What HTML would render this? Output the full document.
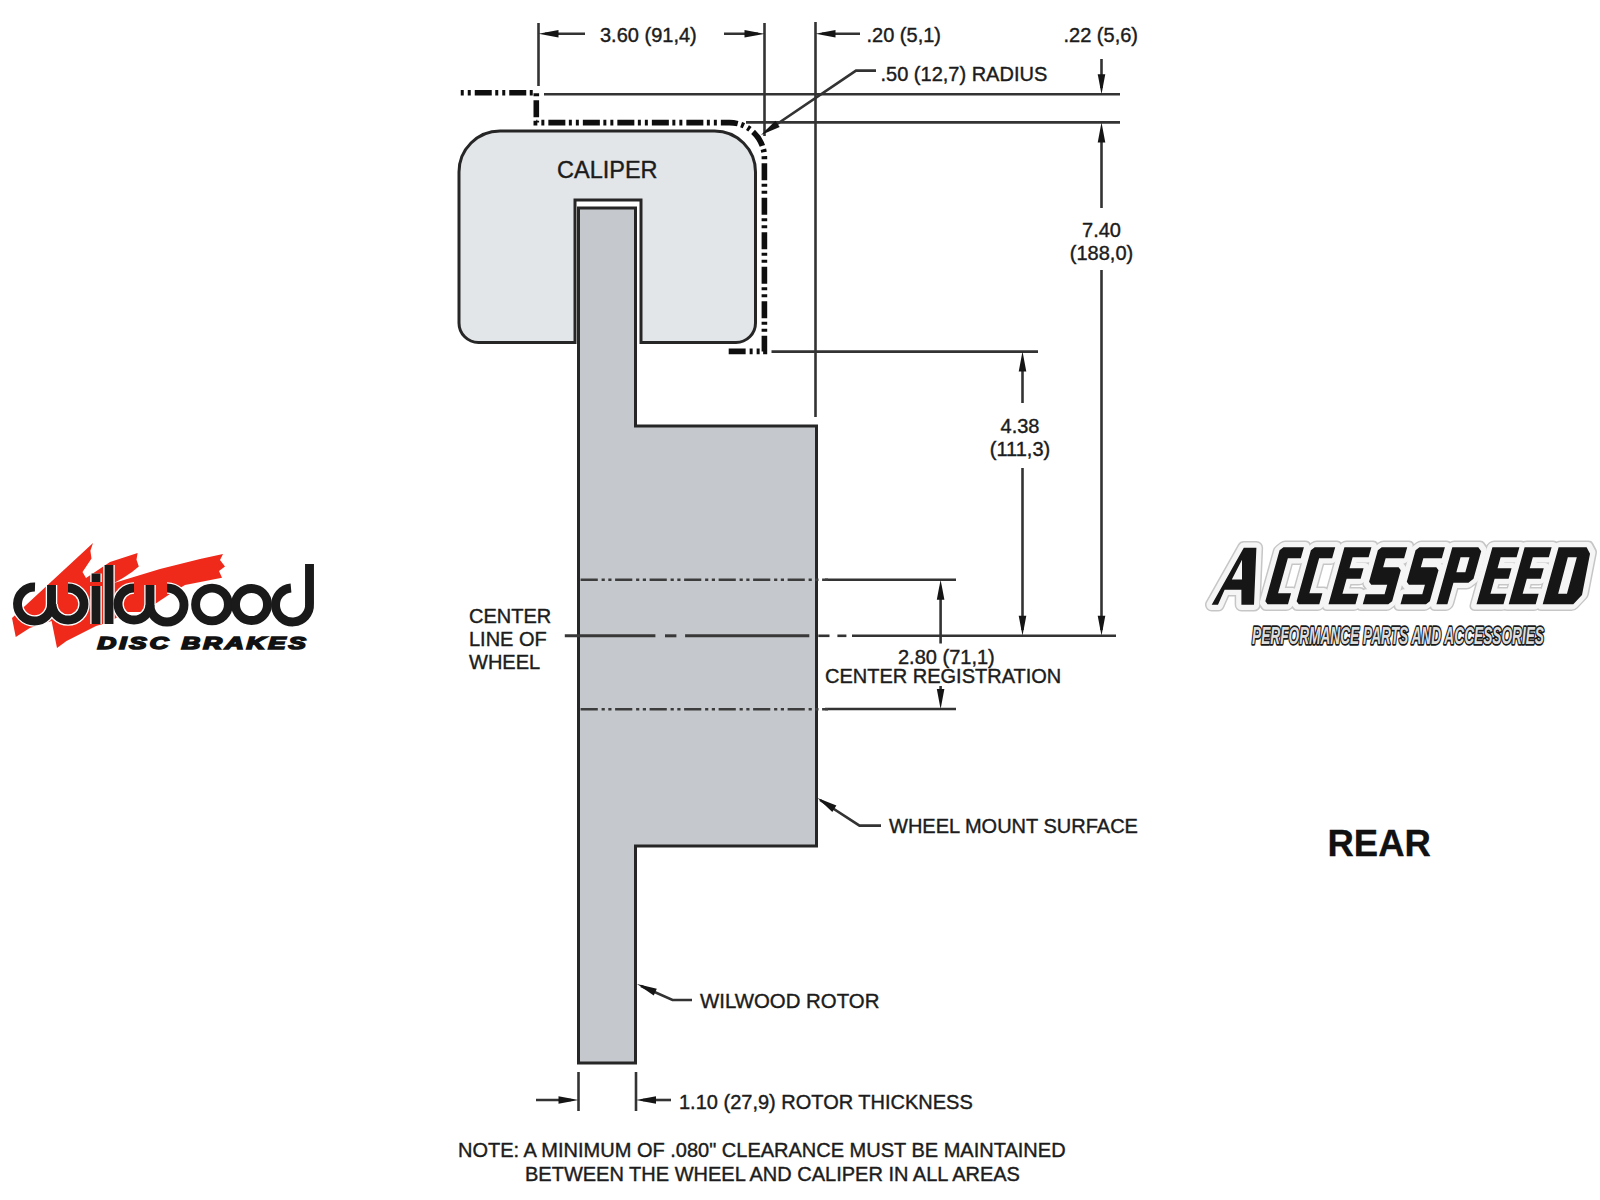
<!DOCTYPE html>
<html><head><meta charset="utf-8">
<style>
html,body{margin:0;padding:0;background:#fff;width:1600px;height:1200px;overflow:hidden}
svg{position:absolute;left:0;top:0;display:block}
text{font-family:"Liberation Sans",sans-serif}
</style></head>
<body>
<svg width="1600" height="1200" viewBox="0 0 1600 1200">
<defs>
<path id="ah" d="M0,0 L-20,-3.8 L-20,3.8 Z"/>
</defs>

<!-- caliper -->
<path d="M459,172 A41,41 0 0 1 500,131 L714.5,131 A41,41 0 0 1 755.5,172 L755.5,323 A19.5,19.5 0 0 1 736,342.5 L641,342.5 L641,200 L575,200 L575,342.5 L478.5,342.5 A19.5,19.5 0 0 1 459,323 Z" fill="#e3e6e9" stroke="#262626" stroke-width="3"/>
<!-- rotor -->
<path d="M578.5,208 L635.5,208 L635.5,426 L816.5,426 L816.5,846 L635.5,846 L635.5,1063 L578.5,1063 Z" fill="#c5c8cc" stroke="#262626" stroke-width="3"/>

<g stroke="#333" stroke-width="2.6" fill="none">
  <!-- extension lines top -->
  <line x1="538.5" y1="23" x2="538.5" y2="86"/>
  <line x1="764.5" y1="23" x2="764.5" y2="136"/>
  <line x1="815.5" y1="22" x2="815.5" y2="417"/>
  <!-- dim line 3.60 -->
  <line x1="545" y1="33.8" x2="585" y2="33.8"/>
  <line x1="724" y1="33.8" x2="758" y2="33.8"/>
  <line x1="822" y1="33.8" x2="860" y2="33.8"/>
  <!-- horizontal ref lines -->
  <line x1="544" y1="94.3" x2="1120" y2="94.3"/>
  <line x1="746" y1="122.4" x2="1120" y2="122.4"/>
  <!-- .22 / 7.40 vertical -->
  <line x1="1101.5" y1="59" x2="1101.5" y2="88"/>
  <line x1="1101.5" y1="130" x2="1101.5" y2="208"/>
  <line x1="1101.5" y1="270" x2="1101.5" y2="630"/>
  <!-- 4.38 -->
  <line x1="771.5" y1="351.6" x2="1038" y2="351.6"/>
  <line x1="1022.5" y1="360" x2="1022.5" y2="403"/>
  <line x1="1022.5" y1="468" x2="1022.5" y2="630"/>
  <!-- center line extension -->
  <line x1="852" y1="635.8" x2="1116" y2="635.8"/>
  <line x1="818.3" y1="635.8" x2="829.5" y2="635.8"/>
  <line x1="837.4" y1="635.8" x2="846.4" y2="635.8"/>
  <!-- 2.80 -->
  <line x1="825" y1="579.8" x2="956" y2="579.8"/>
  <line x1="825" y1="709" x2="956" y2="709"/>
  <line x1="940.6" y1="588" x2="940.6" y2="643.5"/>
  <line x1="940.6" y1="686" x2="940.6" y2="701"/>
  <!-- 1.10 -->
  <line x1="578.5" y1="1072" x2="578.5" y2="1111"/>
  <line x1="636" y1="1072" x2="636" y2="1111"/>
  <line x1="536" y1="1100" x2="571" y2="1100"/>
  <line x1="643" y1="1100" x2="671" y2="1100"/>
  <!-- leaders -->
  <polyline points="876,70.6 856,70.6 766,131.5"/>
  <polyline points="820,800 859.5,825.6 881,825.6"/>
  <polyline points="641,986 672.5,1000 692,1000"/>
</g>

<!-- center lines across rotor -->
<g stroke="#383838" stroke-width="3" fill="none">
  <line x1="564.8" y1="635.8" x2="655.4" y2="635.8"/>
  <line x1="665" y1="635.8" x2="676.4" y2="635.8"/>
  <line x1="685.1" y1="635.8" x2="809.3" y2="635.8"/>
  <line x1="578" y1="579.7" x2="828" y2="579.7" stroke-dasharray="17.2,3.8,3.2,3.5,3.2,3.6" stroke-dashoffset="31.9" stroke-width="2.5" stroke="#3c3c3c"/>
  <line x1="578" y1="709.2" x2="828" y2="709.2" stroke-dasharray="17.2,3.8,3.2,3.5,3.2,3.6" stroke-dashoffset="31.9" stroke-width="2.5" stroke="#3c3c3c"/>
</g>

<!-- phantom (clearance) line -->
<path d="M460,92.7 H536.3 V122.6 H729.4 A35,35 0 0 1 764.4,157.6 V351.4 H728.7" stroke="#0e0e0e" stroke-width="5.6" fill="none" stroke-dasharray="17,3.5,3,4,3,4" stroke-dashoffset="19.75"/>

<!-- arrowheads -->
<g fill="#151515">
  <use href="#ah" transform="translate(538.5,33.8) rotate(180)"/>
  <use href="#ah" transform="translate(764.5,33.8)"/>
  <use href="#ah" transform="translate(815.5,33.8) rotate(180)"/>
  <use href="#ah" transform="translate(1101.5,94.3) rotate(90)"/>
  <use href="#ah" transform="translate(1101.5,122.4) rotate(-90)"/>
  <use href="#ah" transform="translate(1101.5,635.8) rotate(90)"/>
  <use href="#ah" transform="translate(1022.5,351.6) rotate(-90)"/>
  <use href="#ah" transform="translate(1022.5,635.8) rotate(90)"/>
  <use href="#ah" transform="translate(940.6,579.8) rotate(-90)"/>
  <use href="#ah" transform="translate(940.6,709) rotate(90)"/>
  <use href="#ah" transform="translate(578.5,1100)"/>
  <use href="#ah" transform="translate(636,1100) rotate(180)"/>
  <use href="#ah" transform="translate(761,135) rotate(145.9)"/>
  <use href="#ah" transform="translate(817.5,798) rotate(212.6)"/>
  <use href="#ah" transform="translate(637,984) rotate(204)"/>
</g>

<!-- texts -->
<g font-size="20" fill="#1c1c1c" stroke="#1c1c1c" stroke-width="0.4">
  <text x="600" y="42">3.60 (91,4)</text>
  <text x="866.5" y="42">.20 (5,1)</text>
  <text x="1063.5" y="42">.22 (5,6)</text>
  <text x="880.5" y="81">.50 (12,7) RADIUS</text>
  <text x="557" y="177.5" font-size="23.5">CALIPER</text>
  <text x="1101.5" y="237" text-anchor="middle">7.40</text>
  <text x="1101.5" y="260" text-anchor="middle">(188,0)</text>
  <text x="1020" y="433" text-anchor="middle">4.38</text>
  <text x="1020" y="456" text-anchor="middle">(111,3)</text>
  <text x="469" y="623">CENTER</text>
  <text x="469" y="646">LINE OF</text>
  <text x="469" y="669">WHEEL</text>
  <text x="898" y="664">2.80 (71,1)</text>
  <text x="825" y="683">CENTER REGISTRATION</text>
  <text x="889" y="833">WHEEL MOUNT SURFACE</text>
  <text x="700" y="1008" font-size="20.4">WILWOOD ROTOR</text>
  <text x="679" y="1109">1.10 (27,9) ROTOR THICKNESS</text>
  <text x="458" y="1157">NOTE: A MINIMUM OF .080" CLEARANCE MUST BE MAINTAINED</text>
  <text x="525" y="1181">BETWEEN THE WHEEL AND CALIPER IN ALL AREAS</text>
  <text x="1327.5" y="856" font-size="36.5" font-weight="bold" fill="#111" stroke="#111" stroke-width="0.3">REAR</text>
</g>

<!-- WILWOOD LOGO -->
<g id="wilwood">
  <g fill="#f02a1a">
    <path d="M12,618 L93,543 L90.4,550.7 L91.5,558.6 L82.5,572 L86,578 L110,562 L137.6,553 L136.5,559.7 L138.8,566.5 L132,572 L123,578 L114,583 L160,569 L200,559 L223,554 L220,560 L225,566.5 L219,571 L222,577.7 L185,585 L170,594 L143,612 L125,612 L110,622 L96,626 L66.5,641 L57,648 L51.6,621 L29.75,628 L15.75,637 Z"/>
  </g>
  <defs><g id="wl" fill="none">
    <path d="M35,587 A17,17 0 1 0 51.5,604 L51.5,585"/>
    <path d="M68,588 A16,16 0 1 1 52,604"/>
    <path d="M96,586 L96,624"/>
    <path d="M96,573.5 L96,582"/>
    <path d="M109,565 L109,624"/>
    <path d="M134,588 A16,16 0 1 0 150,604 L150,585"/>
    <path d="M167,588 A17,17 0 1 1 150,605"/>
    <circle cx="212" cy="604.5" r="16.4"/>
    <circle cx="251.5" cy="604.5" r="16"/>
    <path d="M291,588 A17,17 0 1 0 309.5,604 L309.5,564"/>
  </g></defs>
  <use href="#wl" stroke="#fff" stroke-width="11.5"/>
  <use href="#wl" stroke="#1a1a1a" stroke-width="8.9"/>
  
  <text transform="translate(97.5,649) scale(1.52,1)" x="0" y="0" font-size="17" font-weight="bold" font-style="italic" fill="#111" stroke="#111" stroke-width="1.6" textLength="137" lengthAdjust="spacing">DISC BRAKES</text>
</g>

<!-- ACCESSPEED LOGO -->
<g id="accesspeed">
  <defs>
    <g id="acc-letters">
      <path d="M1211.7,604.8 L1243.8,547.8 L1256.4,547.8 L1254,604.8 L1241.4,604.8 L1241.4,589.8 L1224.6,589.8 L1218,604.8 Z M1231.8,579.6 L1242,579.6 L1242,559.8 Z" fill-rule="evenodd"/>
      <g transform="translate(0,604.3) skewX(-15.6)">
        <path transform="translate(1264.5,0)" fill-rule="evenodd" d="M3,-57 L23.5,-57 L23.5,-46 L10.5,-46 L10.5,-11 L23.5,-11 L23.5,0 L3,0 L0,-3 L0,-54 Z"/>
        <path transform="translate(1295.8,0)" fill-rule="evenodd" d="M3,-57 L23.5,-57 L23.5,-46 L10.5,-46 L10.5,-11 L23.5,-11 L23.5,0 L3,0 L0,-3 L0,-54 Z"/>
        <path transform="translate(1328.5,0)" fill-rule="evenodd" d="M0,-57 L27,-57 L27,-47 L11,-47 L11,-36 L25,-36 L25,-25.5 L11,-25.5 L11,-10.5 L27,-10.5 L27,0 L0,0 Z"/>
        <path transform="translate(1362.8,0)" fill-rule="evenodd" d="M3,-57 L28.5,-57 L28.5,-46 L10,-46 L10,-37 L25.5,-37 L28.5,-34 L28.5,-3 L25.5,0 L0,0 L0,-10 L19,-10 L19,-19.5 L3,-19.5 L0,-22.5 L0,-54 Z"/>
        <path transform="translate(1400.5,0)" fill-rule="evenodd" d="M3,-57 L28.5,-57 L28.5,-46 L10,-46 L10,-37 L25.5,-37 L28.5,-34 L28.5,-3 L25.5,0 L0,0 L0,-10 L19,-10 L19,-19.5 L3,-19.5 L0,-22.5 L0,-54 Z"/>
        <path transform="translate(1436.4,0)" fill-rule="evenodd" d="M0,-57 L26,-57 L30,-53 L30,-25.5 L26,-21.6 L11,-21.6 L11,0 L0,0 Z M11,-47 L20,-47 L20,-32 L11,-32 Z"/>
        <path transform="translate(1476.5,0)" fill-rule="evenodd" d="M0,-57 L27,-57 L27,-47 L11,-47 L11,-36 L25,-36 L25,-25.5 L11,-25.5 L11,-10.5 L27,-10.5 L27,0 L0,0 Z"/>
        <path transform="translate(1508.7,0)" fill-rule="evenodd" d="M0,-57 L27,-57 L27,-47 L11,-47 L11,-36 L25,-36 L25,-25.5 L11,-25.5 L11,-10.5 L27,-10.5 L27,0 L0,0 Z"/>
        <path transform="translate(1542.7,0)" fill-rule="evenodd" d="M0,-57 L28,-57 L33.2,-50.6 L36.7,-9.3 L30.6,0 L0,0 Z M12,-47 L21,-47 L21.3,-10.6 L12.5,-10.6 Z"/>
      </g>
    </g>
  </defs>
  <use href="#acc-letters" fill="#c6c6c6" stroke="#c6c6c6" stroke-width="13.5" stroke-linejoin="round"/>
  <use href="#acc-letters" fill="#f5f5f5" stroke="#f5f5f5" stroke-width="10.5" stroke-linejoin="round"/>
  <use href="#acc-letters" fill="#161616"/>
  <text x="1252" y="644" font-size="24.5" font-weight="bold" font-style="italic" fill="#dedede" stroke="#1a1a1a" stroke-width="3.6" paint-order="stroke" stroke-linejoin="round" textLength="292" lengthAdjust="spacingAndGlyphs">PERFORMANCE PARTS AND ACCESSORIES</text>
</g>

</svg>
</body></html>
